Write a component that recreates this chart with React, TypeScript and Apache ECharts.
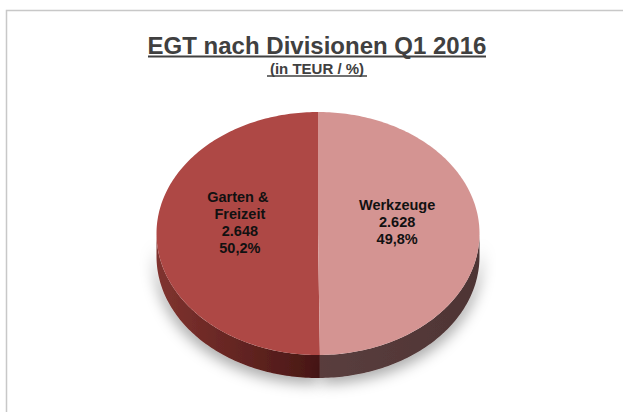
import React, { useEffect, useRef } from "react";
import * as echarts from "echarts";

const categories = ["Garten & Freizeit", "Werkzeuge"];
const values = [2648, 2628];
const titleText = "EGT nach Divisionen Q1 2016";
const subtitleText = "(in TEUR / %)";

const topColors = ["#AE4845", "#D49492"];
const sideStops = [
  ["#80332f", "#481715"],
  ["#5a3e3e", "#4e3434"],
];

function fmtDe(n: number): string {
  return String(n).replace(/\B(?=(\d{3})+(?!\d))/g, ".");
}

export default function App() {
  const ref = useRef<HTMLDivElement>(null);
  useEffect(() => {
    if (!ref.current) return;
    const chart = echarts.init(ref.current, undefined, { renderer: "svg" });
    const total = values.reduce((a, b) => a + b, 0);
    const cx = 318;
    const cy = 233.5;
    const rx = 161.5;
    const ry = 121.5;
    const depth = 23;
    const font = "'Liberation Sans', Arial, Helvetica, sans-serif";

    const arcPts = (a0: number, a1: number, dy: number) => {
      const pts: number[][] = [];
      const n = Math.max(2, Math.ceil(a1 - a0));
      for (let k = 0; k <= n; k++) {
        const t = ((a0 + ((a1 - a0) * k) / n) * Math.PI) / 180;
        pts.push([cx + rx * Math.cos(t), cy + dy + ry * Math.sin(t)]);
      }
      return pts;
    };

    const renderItem = (params: any) => {
      const i = params.dataIndex;
      let before = 0;
      for (let j = 0; j < i; j++) before += values[j];
      const startDeg = -90 - (before / total) * 360;
      const span = (values[i] / total) * 360;
      const a0 = startDeg - span;
      const a1 = startDeg;
      const children: any[] = [];
      for (let k = -2; k <= 1; k++) {
        const lo = Math.max(a0, 360 * k);
        const hi = Math.min(a1, 360 * k + 180);
        if (hi > lo) {
          const topArc = arcPts(lo, hi, 0);
          const botArc = arcPts(lo, hi, depth).reverse();
          children.push({
            type: "polygon",
            z2: 1,
            shape: { points: topArc.concat(botArc) },
            style: {
              fill: {
                type: "linear",
                x: cx - rx,
                y: 0,
                x2: cx + rx,
                y2: 0,
                global: true,
                colorStops:
                  i === 0
                    ? [
                        { offset: 0, color: sideStops[0][0] },
                        { offset: 0.5, color: sideStops[0][1] },
                        { offset: 1, color: sideStops[0][1] },
                      ]
                    : [
                        { offset: 0, color: sideStops[1][0] },
                        { offset: 0.5, color: sideStops[1][0] },
                        { offset: 1, color: sideStops[1][1] },
                      ],
              },
              shadowBlur: 14,
              shadowColor: "rgba(0,0,0,0.33)",
              shadowOffsetY: 6,
              shadowOffsetX: i === 0 ? -2 : 2,
            },
          });
        }
      }
      children.push({
        type: "polygon",
        z2: 10,
        shape: { points: [[cx, cy]].concat(arcPts(a0, a1, 0)) },
        style: { fill: topColors[i] },
      });
      const mid = (((a0 + a1) / 2) * Math.PI) / 180;
      const pct = ((values[i] / total) * 100).toFixed(1).replace(".", ",") + "%";
      children.push({
        type: "text",
        z2: 20,
        x: cx + 0.49 * rx * Math.cos(mid) + (i === 0 ? 1 : 0),
        y: cy + 0.49 * ry * Math.sin(mid) - 11,
        style: {
          text: categories[i] + "\n" + fmtDe(values[i]) + "\n" + pct,
          width: 84,
          overflow: "break",
          align: "center",
          verticalAlign: "middle",
          lineHeight: 17,
          fontSize: 14.5,
          fontWeight: "bold",
          fontFamily: font,
          fill: "#111111",
        },
      });
      return { type: "group", children };
    };

    chart.setOption({
      animation: false,
      backgroundColor: "#ffffff",
      graphic: [
        {
          type: "rect",
          shape: { x: 6.5, y: 10.5, width: 700, height: 500 },
          style: { fill: "none", stroke: "#c8c8c8", lineWidth: 1.5 },
          silent: true,
        },
        {
          type: "text",
          x: 317,
          y: 45,
          style: {
            text: titleText,
            align: "center",
            verticalAlign: "middle",
            fontSize: 24,
            fontWeight: "bold",
            fontFamily: font,
            fill: "#404040",
          },
        },
        {
          type: "line",
          shape: { x1: 148, y1: 56.5, x2: 486, y2: 56.5 },
          style: { stroke: "#404040", lineWidth: 2 },
        },
        {
          type: "text",
          x: 317,
          y: 68,
          style: {
            text: subtitleText,
            align: "center",
            verticalAlign: "middle",
            fontSize: 15,
            fontWeight: "bold",
            fontFamily: font,
            fill: "#404040",
          },
        },
        {
          type: "line",
          shape: { x1: 267, y1: 76, x2: 367, y2: 76 },
          style: { stroke: "#404040", lineWidth: 1.5 },
        },
      ],
      series: [
        {
          type: "custom",
          coordinateSystem: "none",
          renderItem,
          data: values.map((v, i) => ({ name: categories[i], value: v })),
        },
      ],
    });
    return () => chart.dispose();
  }, []);
  return (
    <div
      ref={ref}
      style={{ position: "absolute", left: 0, top: 0, width: 623, height: 412 }}
    />
  );
}
